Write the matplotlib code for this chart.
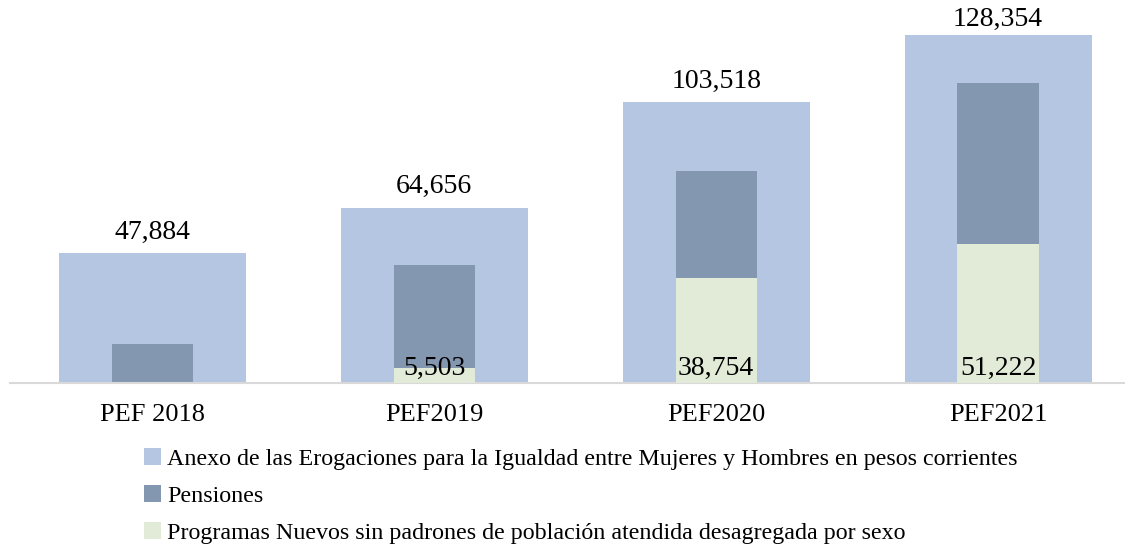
import matplotlib.pyplot as plt
import numpy as np

# datos (millones de pesos)
periodos = ['PEF 2018', 'PEF2019', 'PEF2020', 'PEF2021']
anexo = [47884, 64656, 103518, 128354]
pensiones = [14500, 43500, 78200, 110600]
nuevos = [0, 5503, 38754, 51222]

etiquetas = ['Anexo de las Erogaciones para la Igualdad entre Mujeres y Hombres en pesos corrientes',
             'Pensiones',
             'Programas Nuevos sin padrones de población atendida desagregada por sexo']

c_anexo = '#B4C6E2'
c_pens = '#8497B0'
c_nuevos = '#E2EBD8'

plt.rcParams['font.family'] = ['Liberation Serif', 'DejaVu Serif']

fig = plt.figure(figsize=(11.25, 5.52), dpi=100)
ax = fig.add_axes([10 / 1125, 1 - 383 / 552, 1 - 10 / 1125, 380 / 552])

x = np.arange(len(periodos))
b1 = ax.bar(x, anexo, width=0.663, color=c_anexo, zorder=1)
b2 = ax.bar(x, pensiones, width=0.288, color=c_pens, zorder=2)
b3 = ax.bar(x, nuevos, width=0.288, color=c_nuevos, zorder=3)

ax.set_xlim(-0.504, 3.45)
ax.set_ylim(0, 140000)

for xi, v in zip(x, anexo):
    y = min(v + 3000, 129300)
    ax.text(xi, y, f'{v:,}', ha='center', va='bottom', fontsize=20, color='black')

for xi, v in zip(x, nuevos):
    if v > 0:
        ax.text(xi, 600, f'{v:,}', ha='center', va='bottom', fontsize=20, color='black', zorder=4)

ax.set_xticks(x)
ax.set_xticklabels(periodos, fontsize=19)
ax.tick_params(axis='x', length=0, pad=15)
ax.set_yticks([])
for s in ['top', 'right', 'left']:
    ax.spines[s].set_visible(False)
ax.spines['bottom'].set_color('#D9D9D9')
ax.spines['bottom'].set_linewidth(1.5)

fig.legend([b1, b2, b3], etiquetas, loc='upper left', bbox_to_anchor=(144 / 1125, 1 - 448 / 552),
           frameon=False, fontsize=17.3, handlelength=0.7, handleheight=0.7, handletextpad=0.25,
           labelspacing=0.63, borderpad=0, borderaxespad=0)

fig.savefig('out.png', dpi=100)
